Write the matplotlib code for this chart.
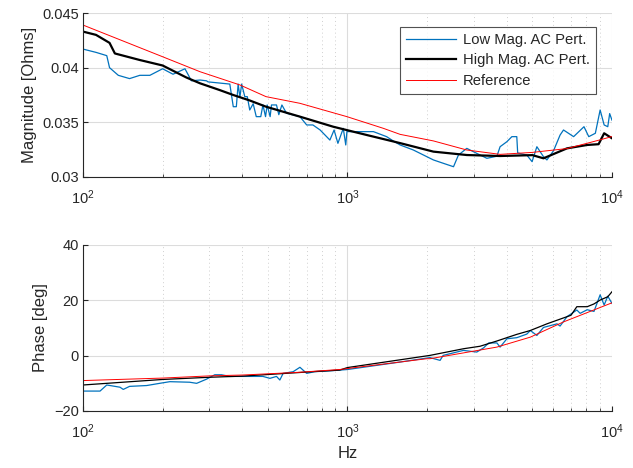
import numpy as np
import matplotlib
matplotlib.use("Agg")
import matplotlib.pyplot as plt
from matplotlib.ticker import LogLocator, NullFormatter, FixedLocator

plt.rcParams['font.family'] = ['Liberation Sans', 'DejaVu Sans']

# ---- Magnitude data ----
ref_mag_f = [100, 200, 277, 392, 492, 661, 995, 1367, 1581, 2113, 2825, 3775, 5000, 6760, 9020, 10000]
ref_mag_v = [0.0439, 0.0410, 0.03963, 0.03842, 0.03735, 0.03674, 0.03552, 0.03445, 0.0339, 0.0333, 0.03247,
             0.03207, 0.03225, 0.0326, 0.0334, 0.0337]

high_mag_f = [100, 112, 126, 132, 164, 200, 246, 277, 328, 370, 427, 492, 661, 883, 1183, 1581, 2113, 2825, 3775,
              5000, 5508, 6760, 8060, 8900, 9340, 10000]
high_mag_v = [0.0433, 0.0430, 0.04227, 0.0413, 0.0407, 0.0402, 0.0391, 0.03857, 0.03796, 0.0375, 0.0370, 0.03643,
              0.03552, 0.0346, 0.03384, 0.0331, 0.03232, 0.03201, 0.03192, 0.0320, 0.03171, 0.03262, 0.03293,
              0.0330, 0.0340, 0.03354]

low_mag_f = [100, 112, 123, 126, 136, 150, 164, 179, 200, 219, 243, 257, 277, 293, 297, 359, 370, 380, 386, 392, 398,
             409, 418, 427, 440, 452, 470, 479, 490, 497, 510, 516, 539, 550, 565, 588, 661, 701, 740, 788, 858, 890,
             920, 964, 985, 995, 1113, 1253, 1406, 1489, 1581, 1774, 2113, 2305, 2517, 2627, 2825, 3083, 3365, 3672,
             3775, 4006, 4183, 4366, 4400, 4764, 4987, 5200, 5508, 5675, 6012, 6365, 6557, 7160, 7837, 8170, 8652,
             9020, 9340, 9640, 9800, 10000]
low_mag_v = [0.0417, 0.0414, 0.0411, 0.0400, 0.0393, 0.0390, 0.0393, 0.0393, 0.0399, 0.0394, 0.0399, 0.0388,
             0.03887, 0.0388, 0.0387, 0.0385, 0.03643, 0.03643, 0.0385, 0.0373, 0.0385, 0.03735, 0.03735, 0.03613,
             0.0367, 0.03552, 0.03552, 0.03659, 0.03552, 0.03659, 0.03552, 0.03659, 0.03659, 0.0357, 0.03659,
             0.03583, 0.03552, 0.03476, 0.03476, 0.0343, 0.03338, 0.0343, 0.03308, 0.03445, 0.03293, 0.03415,
             0.03415, 0.03415, 0.03369, 0.0333, 0.03293, 0.03247, 0.03156, 0.03125, 0.03094, 0.03201, 0.03262,
             0.03216, 0.03171, 0.0319, 0.03277, 0.03323, 0.03369, 0.03369, 0.0322, 0.03201, 0.0314, 0.03277,
             0.03186, 0.03156, 0.0324, 0.03384, 0.0343, 0.03369, 0.0346, 0.03369, 0.034, 0.03613, 0.03476, 0.0346,
             0.0358, 0.0352]

# ---- Phase data ----
ref_ph_f = [100, 200, 302, 400, 661, 935, 1995, 2051, 3672, 4913, 6557, 10000]
ref_ph_v = [-9.0, -8.1, -7.3, -7.0, -6.0, -5.0, -1.1, -1.1, 3.1, 6.7, 12.2, 19.1]

high_ph_f = [100, 200, 302, 400, 706, 935, 1000, 2051, 2744, 3170, 3672, 4366, 4913, 5675, 6193, 7000, 7363, 8060,
             8551, 9020, 9640, 10000]
high_ph_v = [-10.6, -8.6, -7.8, -7.4, -5.9, -5.2, -4.3, 0.1, 2.5, 3.4, 5.3, 7.7, 9.1, 11.5, 12.8, 14.6, 17.7, 17.7,
             18.7, 20.1, 21.3, 23.1]

low_ph_f = [100, 116, 123, 138, 142, 150, 174, 195, 213, 253, 269, 293, 315, 334, 359, 440, 479, 509, 539, 555, 571,
            623, 661, 701, 750, 883, 1000, 1581, 2051, 2239, 2300, 2744, 3082, 3268, 3420, 3672, 3775, 4006, 4366,
            4764, 4913, 5200, 5508, 6193, 6365, 6760, 7363, 7580, 8060, 8551, 9020, 9340, 9640, 10000]
low_ph_v = [-12.8, -12.8, -10.6, -11.4, -12.2, -11.1, -10.8, -10.0, -9.4, -9.6, -10.0, -8.5, -6.9, -6.9, -7.5,
            -7.5, -7.5, -8.2, -7.5, -8.8, -6.4, -5.8, -4.2, -6.4, -5.8, -5.4, -5.0, -2.3, -0.7, -1.7, 0.1, 1.9, 1.3,
            2.8, 4.6, 4.6, 3.1, 6.1, 6.5, 7.8, 9.1, 7.3, 10.2, 11.5, 10.7, 14.1, 16.5, 15.3, 16.6, 16.0, 22.0, 18.3,
            21.5, 18.9]

mag_yticks = [0.03, 0.035, 0.04, 0.045]
mag_ytick_labels = ['0.03', '0.035', '0.04', '0.045']
ph_yticks = [-20, 0, 20, 40]

blue = '#0072BD'
dark = '#262626'

fig = plt.figure(figsize=(6.33, 4.68), dpi=100)
ax1 = fig.add_axes([0.1311, 0.6218, 0.8357, 0.3504])
ax2 = fig.add_axes([0.1311, 0.1218, 0.8357, 0.3547])

def style(ax):
    ax.set_xscale('log')
    ax.set_xlim(100, 10000)
    ax.xaxis.set_major_locator(LogLocator(base=10, numticks=10))
    ax.xaxis.set_minor_locator(LogLocator(base=10, subs=np.arange(2, 10), numticks=20))
    ax.xaxis.set_minor_formatter(NullFormatter())
    ax.grid(True, which='major', color='#dcdcdc', linewidth=0.8, linestyle='-')
    ax.grid(True, which='minor', axis='x', color='#cfcfcf', linewidth=0.7, linestyle=(0, (1, 3)))
    ax.set_axisbelow(True)
    for s in ['top', 'right']:
        ax.spines[s].set_visible(False)
    for s in ['left', 'bottom']:
        ax.spines[s].set_color(dark)
        ax.spines[s].set_linewidth(0.8)
    ax.tick_params(which='major', direction='in', length=3.6, width=0.8, color=dark,
                   labelsize=10.5, labelcolor=dark, top=False, right=False)
    ax.tick_params(which='minor', direction='in', length=2.2, width=0.6, color=dark,
                   top=False, right=False)
    ax.tick_params(axis='x', which='major', pad=8)
    ax.tick_params(axis='y', which='major', pad=3)

style(ax1)
ax1.plot(low_mag_f, low_mag_v, color=blue, lw=0.9, label='Low Mag. AC Pert.')
ax1.plot(high_mag_f, high_mag_v, color='black', lw=1.6, label='High Mag. AC Pert.')
ax1.plot(ref_mag_f, ref_mag_v, color='red', lw=0.7, label='Reference')
ax1.set_ylim(0.03, 0.045)
ax1.yaxis.set_major_locator(FixedLocator(mag_yticks))
ax1.set_yticklabels(mag_ytick_labels)
ax1.set_ylabel('Magnitude [Ohms]', fontsize=12, color=dark)
leg = ax1.legend(loc='upper right', bbox_to_anchor=(0.970, 0.915), fontsize=10.6, frameon=True,
                 fancybox=False, edgecolor=dark, handlelength=3.4, borderpad=0.4,
                 labelspacing=0.45, handletextpad=0.5, borderaxespad=0)
leg.get_frame().set_linewidth(0.8)
for t in leg.get_texts():
    t.set_color(dark)

style(ax2)
ax2.plot(low_ph_f, low_ph_v, color=blue, lw=0.9)
ax2.plot(high_ph_f, high_ph_v, color='black', lw=0.9)
ax2.plot(ref_ph_f, ref_ph_v, color='red', lw=0.7)
ax2.set_ylim(-20, 40)
ax2.yaxis.set_major_locator(FixedLocator(ph_yticks))
ax2.set_ylabel('Phase [deg]', fontsize=12, color=dark)
ax2.set_xlabel('Hz', fontsize=12, color=dark)

fig.savefig('out.png', dpi=100)
